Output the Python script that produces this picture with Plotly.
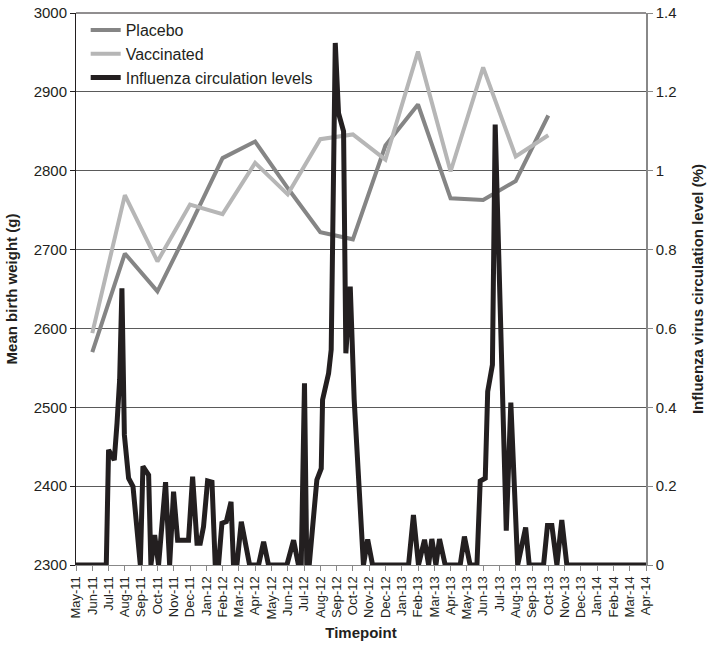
import plotly.graph_objects as go

month_labels = ["May-11", "Jun-11", "Jul-11", "Aug-11", "Sep-11", "Oct-11", "Nov-11", "Dec-11",
                "Jan-12", "Feb-12", "Mar-12", "Apr-12", "May-12", "Jun-12", "Jul-12", "Aug-12",
                "Sep-12", "Oct-12", "Nov-12", "Dec-12", "Jan-13", "Feb-13", "Mar-13", "Apr-13",
                "May-13", "Jun-13", "Jul-13", "Aug-13", "Sep-13", "Oct-13", "Nov-13", "Dec-13",
                "Jan-14", "Feb-14", "Mar-14", "Apr-14"]

bw_timepoints = ["Jun-11", "Aug-11", "Oct-11", "Dec-11", "Feb-12", "Apr-12", "Jun-12", "Aug-12",
                 "Oct-12", "Dec-12", "Feb-13", "Apr-13", "Jun-13", "Aug-13", "Oct-13"]
placebo = [2570, 2695, 2647, 2730, 2816, 2837, 2778, 2722, 2713, 2832, 2884, 2765, 2763, 2787, 2870]
vaccinated = [2594, 2769, 2685, 2757, 2745, 2810, 2770, 2840, 2846, 2814, 2951, 2799, 2931, 2818, 2845]

# influenza circulation: time in months since May-11, level in %
flu_time = [0, 1.86, 2.00, 2.35, 2.52, 2.68, 2.82, 2.97, 3.23, 3.50, 3.95, 4.11, 4.46, 4.60, 4.83,
            5.07, 5.50, 5.75, 5.99, 6.24, 6.91, 7.16, 7.43, 7.63, 7.83, 8.08, 8.35, 8.55, 8.75,
            8.96, 9.23, 9.52, 9.67, 9.88, 10.15, 10.66, 11.21, 11.52, 11.82, 12.95, 13.36, 13.66,
            13.83, 14.03, 14.17, 14.32, 14.79, 15.06, 15.14, 15.51, 15.67, 15.92, 16.12, 16.43,
            16.57, 16.84, 17.08, 17.65, 17.91, 18.21, 20.42, 20.72, 21.03, 21.40, 21.65, 21.85,
            22.10, 22.32, 22.67, 23.59, 23.85, 24.20, 24.62, 24.82, 25.13, 25.28, 25.57, 25.74,
            26.42, 26.70, 27.12, 27.61, 27.83, 28.71, 28.95, 29.22, 29.53, 29.83, 30.14, 35]
flu_level = [0, 0, 0.292, 0.266, 0.36, 0.47, 0.702, 0.33, 0.22, 0.199, 0, 0.25, 0.228, 0, 0.076,
             0, 0.21, 0, 0.186, 0.063, 0.063, 0.224, 0.055, 0.055, 0.097, 0.213, 0.21, 0, 0,
             0.106, 0.11, 0.16, 0, 0, 0.11, 0, 0, 0.059, 0, 0, 0.063, 0,
             0, 0.461, 0, 0, 0.216, 0.245, 0.419, 0.486, 0.546, 1.324, 1.146, 1.10,
             0.537, 0.706, 0.42, 0, 0.065, 0, 0, 0.127, 0, 0.064, 0, 0.066,
             0, 0.066, 0, 0, 0.072, 0, 0, 0.213, 0.22, 0.44, 0.508, 1.117,
             0.087, 0.412, 0, 0.095, 0, 0, 0.1, 0.1, 0, 0.114, 0, 0]

left_ticks = [2300, 2400, 2500, 2600, 2700, 2800, 2900, 3000]
right_ticks = [0, 0.2, 0.4, 0.6, 0.8, 1, 1.2, 1.4]

FONT = "Liberation Sans, Arial, Helvetica, sans-serif"
bw_x = [month_labels.index(t) for t in bw_timepoints]

fig = go.Figure()
fig.add_trace(go.Scatter(x=bw_x, y=placebo, mode="lines", name="Placebo",
                         line=dict(color="#858585", width=4)))
fig.add_trace(go.Scatter(x=bw_x, y=vaccinated, mode="lines", name="Vaccinated",
                         line=dict(color="#b6b6b6", width=4)))
fig.add_trace(go.Scatter(x=flu_time, y=flu_level, mode="lines", name="Influenza circulation levels",
                         yaxis="y2", cliponaxis=False,
                         line=dict(color="#231f20", width=5)))

fig.update_layout(
    width=707, height=646,
    margin=dict(l=76, r=61, t=13, b=81, autoexpand=False),
    paper_bgcolor="white", plot_bgcolor="white",
    font=dict(family=FONT, color="#231f20"),
    showlegend=True,
    legend=dict(x=0.017, y=1.0, xanchor="left", yanchor="top",
                bgcolor="rgba(0,0,0,0)", font=dict(size=16, family=FONT, color="#231f20"),
                itemwidth=30, tracegroupgap=0),
    xaxis=dict(range=[0, 35], tickmode="array", tickvals=list(range(len(month_labels))),
               ticktext=month_labels, tickangle=-90, tickfont=dict(size=13, family=FONT),
               ticks="outside", ticklen=5, tickcolor="#888888", showgrid=False,
               showline=True, linecolor="#888888", linewidth=1, zeroline=False, automargin=False,
               ticklabeloverflow="allow",
               title=dict(text="<b>Timepoint</b>", font=dict(size=15, family=FONT), standoff=8)),
    yaxis=dict(range=[2300, 3000], tickvals=left_ticks, tickfont=dict(size=15, family=FONT),
               ticks="outside", ticklen=5, tickcolor="#231f20", showgrid=True,
               gridcolor="#5a5a5a", gridwidth=1, showline=True, linecolor="#231f20",
               linewidth=1, zeroline=False, automargin=False, ticklabeloverflow="allow",
               title=dict(text="<b>Mean birth weight (g)</b>", font=dict(size=15, family=FONT), standoff=12)),
    yaxis2=dict(range=[0, 1.4], tickvals=right_ticks, ticktext=["0", "0.2", "0.4", "0.6", "0.8", "1", "1.2", "1.4"],
                overlaying="y", side="right", tickfont=dict(size=15, family=FONT),
                ticks="outside", ticklen=5, tickcolor="#888888", showgrid=False,
                showline=True, linecolor="#888888", linewidth=1.5, zeroline=False, automargin=False,
                ticklabeloverflow="allow",
                title=dict(text="<b>Influenza virus circulation level (%)</b>", font=dict(size=15, family=FONT), standoff=17)),
)
fig.add_shape(type="line", xref="paper", yref="paper", x0=0, x1=1, y0=1, y1=1,
              line=dict(color="#231f20", width=1))

fig.write_html("out.html", config={"displayModeBar": False},
               post_script="document.body.style.margin='0';document.body.style.padding='0';")
